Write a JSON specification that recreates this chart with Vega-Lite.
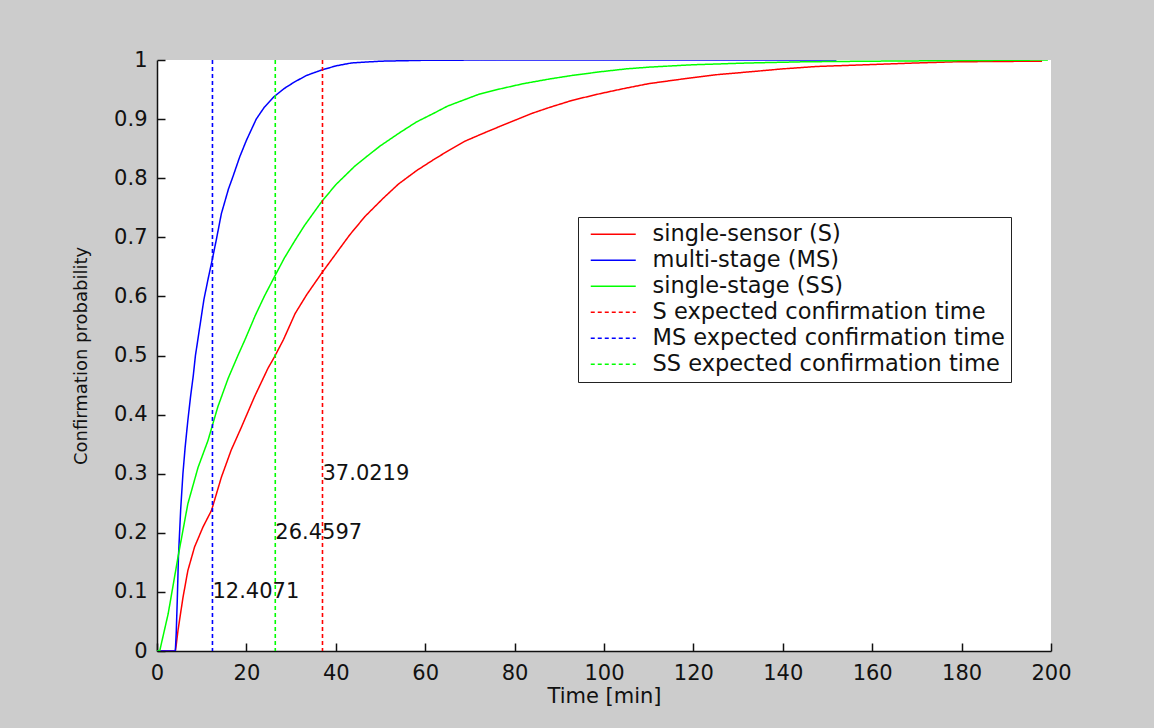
{
  "$schema": "https://vega.github.io/schema/vega-lite/v6.json",
  "width": 894,
  "height": 591,
  "autosize": {"type": "none"},
  "padding": {"left": 157, "top": 60, "right": 103, "bottom": 77},
  "background": "#cccccc",
  "config": {
    "font": "DejaVu Sans",
    "view": {"fill": "white", "stroke": null},
    "axis": {
      "domainColor": "#111111",
      "domainWidth": 1.5,
      "tickColor": "#111111",
      "tickWidth": 1.5,
      "tickSize": -8,
      "grid": false,
      "labelColor": "#111111",
      "labelFont": "DejaVu Sans",
      "labelFontSize": 21,
      "titleColor": "#111111",
      "titleFont": "DejaVu Sans",
      "titleFontWeight": "normal"
    }
  },
  "datasets": {
    "curves": [
      {"t": 0, "p": 0, "series": "single-sensor (S)"},
      {"t": 4.1, "p": 0, "series": "single-sensor (S)"},
      {"t": 4.3, "p": 0.01, "series": "single-sensor (S)"},
      {"t": 4.7, "p": 0.035, "series": "single-sensor (S)"},
      {"t": 5.8, "p": 0.09, "series": "single-sensor (S)"},
      {"t": 6.9, "p": 0.136, "series": "single-sensor (S)"},
      {"t": 8.4, "p": 0.176, "series": "single-sensor (S)"},
      {"t": 10.3, "p": 0.21, "series": "single-sensor (S)"},
      {"t": 12.2, "p": 0.238, "series": "single-sensor (S)"},
      {"t": 14.4, "p": 0.294, "series": "single-sensor (S)"},
      {"t": 16.6, "p": 0.34, "series": "single-sensor (S)"},
      {"t": 18.9, "p": 0.379, "series": "single-sensor (S)"},
      {"t": 21.8, "p": 0.43, "series": "single-sensor (S)"},
      {"t": 24.8, "p": 0.478, "series": "single-sensor (S)"},
      {"t": 26.3, "p": 0.498, "series": "single-sensor (S)"},
      {"t": 28.3, "p": 0.527, "series": "single-sensor (S)"},
      {"t": 30.9, "p": 0.571, "series": "single-sensor (S)"},
      {"t": 33.5, "p": 0.603, "series": "single-sensor (S)"},
      {"t": 36.8, "p": 0.639, "series": "single-sensor (S)"},
      {"t": 40, "p": 0.672, "series": "single-sensor (S)"},
      {"t": 43.1, "p": 0.704, "series": "single-sensor (S)"},
      {"t": 46.5, "p": 0.735, "series": "single-sensor (S)"},
      {"t": 50.6, "p": 0.766, "series": "single-sensor (S)"},
      {"t": 54, "p": 0.79, "series": "single-sensor (S)"},
      {"t": 58.1, "p": 0.813, "series": "single-sensor (S)"},
      {"t": 62, "p": 0.832, "series": "single-sensor (S)"},
      {"t": 65.5, "p": 0.848, "series": "single-sensor (S)"},
      {"t": 69, "p": 0.863, "series": "single-sensor (S)"},
      {"t": 73, "p": 0.876, "series": "single-sensor (S)"},
      {"t": 76.5, "p": 0.887, "series": "single-sensor (S)"},
      {"t": 80.4, "p": 0.899, "series": "single-sensor (S)"},
      {"t": 84, "p": 0.91, "series": "single-sensor (S)"},
      {"t": 87.9, "p": 0.92, "series": "single-sensor (S)"},
      {"t": 93, "p": 0.932, "series": "single-sensor (S)"},
      {"t": 99.1, "p": 0.943, "series": "single-sensor (S)"},
      {"t": 104, "p": 0.951, "series": "single-sensor (S)"},
      {"t": 110, "p": 0.96, "series": "single-sensor (S)"},
      {"t": 117.7, "p": 0.968, "series": "single-sensor (S)"},
      {"t": 125, "p": 0.975, "series": "single-sensor (S)"},
      {"t": 132.6, "p": 0.98, "series": "single-sensor (S)"},
      {"t": 140, "p": 0.985, "series": "single-sensor (S)"},
      {"t": 147.5, "p": 0.989, "series": "single-sensor (S)"},
      {"t": 155, "p": 0.991, "series": "single-sensor (S)"},
      {"t": 162.4, "p": 0.993, "series": "single-sensor (S)"},
      {"t": 170, "p": 0.995, "series": "single-sensor (S)"},
      {"t": 178.8, "p": 0.997, "series": "single-sensor (S)"},
      {"t": 198, "p": 0.998, "series": "single-sensor (S)"},

      {"t": 0, "p": 0, "series": "multi-stage (MS)"},
      {"t": 4.1, "p": 0, "series": "multi-stage (MS)"},
      {"t": 4.3, "p": 0.03, "series": "multi-stage (MS)"},
      {"t": 4.55, "p": 0.09, "series": "multi-stage (MS)"},
      {"t": 4.8, "p": 0.16, "series": "multi-stage (MS)"},
      {"t": 5.3, "p": 0.24, "series": "multi-stage (MS)"},
      {"t": 5.8, "p": 0.3, "series": "multi-stage (MS)"},
      {"t": 6.3, "p": 0.345, "series": "multi-stage (MS)"},
      {"t": 6.9, "p": 0.39, "series": "multi-stage (MS)"},
      {"t": 7.5, "p": 0.43, "series": "multi-stage (MS)"},
      {"t": 8.1, "p": 0.465, "series": "multi-stage (MS)"},
      {"t": 8.6, "p": 0.5, "series": "multi-stage (MS)"},
      {"t": 9.3, "p": 0.535, "series": "multi-stage (MS)"},
      {"t": 10.5, "p": 0.595, "series": "multi-stage (MS)"},
      {"t": 11.5, "p": 0.632, "series": "multi-stage (MS)"},
      {"t": 12.3, "p": 0.66, "series": "multi-stage (MS)"},
      {"t": 13.3, "p": 0.697, "series": "multi-stage (MS)"},
      {"t": 14.4, "p": 0.74, "series": "multi-stage (MS)"},
      {"t": 16, "p": 0.782, "series": "multi-stage (MS)"},
      {"t": 17, "p": 0.803, "series": "multi-stage (MS)"},
      {"t": 18.5, "p": 0.836, "series": "multi-stage (MS)"},
      {"t": 20, "p": 0.864, "series": "multi-stage (MS)"},
      {"t": 22.2, "p": 0.9, "series": "multi-stage (MS)"},
      {"t": 24, "p": 0.92, "series": "multi-stage (MS)"},
      {"t": 26.2, "p": 0.938, "series": "multi-stage (MS)"},
      {"t": 28.5, "p": 0.952, "series": "multi-stage (MS)"},
      {"t": 30.8, "p": 0.963, "series": "multi-stage (MS)"},
      {"t": 33.5, "p": 0.974, "series": "multi-stage (MS)"},
      {"t": 36.8, "p": 0.983, "series": "multi-stage (MS)"},
      {"t": 40, "p": 0.99, "series": "multi-stage (MS)"},
      {"t": 43.5, "p": 0.995, "series": "multi-stage (MS)"},
      {"t": 50, "p": 0.998, "series": "multi-stage (MS)"},
      {"t": 60, "p": 0.9995, "series": "multi-stage (MS)"},
      {"t": 75, "p": 1, "series": "multi-stage (MS)"},
      {"t": 152, "p": 1, "series": "multi-stage (MS)"},

      {"t": 0, "p": 0, "series": "single-stage (SS)"},
      {"t": 0.6, "p": 0, "series": "single-stage (SS)"},
      {"t": 2.5, "p": 0.063, "series": "single-stage (SS)"},
      {"t": 4.7, "p": 0.159, "series": "single-stage (SS)"},
      {"t": 6.9, "p": 0.249, "series": "single-stage (SS)"},
      {"t": 9.2, "p": 0.311, "series": "single-stage (SS)"},
      {"t": 11.4, "p": 0.356, "series": "single-stage (SS)"},
      {"t": 13.6, "p": 0.413, "series": "single-stage (SS)"},
      {"t": 15.9, "p": 0.461, "series": "single-stage (SS)"},
      {"t": 18.1, "p": 0.5, "series": "single-stage (SS)"},
      {"t": 19.7, "p": 0.527, "series": "single-stage (SS)"},
      {"t": 22, "p": 0.568, "series": "single-stage (SS)"},
      {"t": 24, "p": 0.6, "series": "single-stage (SS)"},
      {"t": 26.4, "p": 0.635, "series": "single-stage (SS)"},
      {"t": 28.5, "p": 0.665, "series": "single-stage (SS)"},
      {"t": 30.9, "p": 0.695, "series": "single-stage (SS)"},
      {"t": 33, "p": 0.72, "series": "single-stage (SS)"},
      {"t": 36.8, "p": 0.76, "series": "single-stage (SS)"},
      {"t": 40, "p": 0.789, "series": "single-stage (SS)"},
      {"t": 44.2, "p": 0.82, "series": "single-stage (SS)"},
      {"t": 46.8, "p": 0.836, "series": "single-stage (SS)"},
      {"t": 50, "p": 0.855, "series": "single-stage (SS)"},
      {"t": 54.3, "p": 0.877, "series": "single-stage (SS)"},
      {"t": 58, "p": 0.895, "series": "single-stage (SS)"},
      {"t": 61.7, "p": 0.909, "series": "single-stage (SS)"},
      {"t": 65, "p": 0.922, "series": "single-stage (SS)"},
      {"t": 69.2, "p": 0.934, "series": "single-stage (SS)"},
      {"t": 72, "p": 0.942, "series": "single-stage (SS)"},
      {"t": 76.7, "p": 0.951, "series": "single-stage (SS)"},
      {"t": 82, "p": 0.96, "series": "single-stage (SS)"},
      {"t": 87.9, "p": 0.968, "series": "single-stage (SS)"},
      {"t": 93, "p": 0.974, "series": "single-stage (SS)"},
      {"t": 99.1, "p": 0.98, "series": "single-stage (SS)"},
      {"t": 105, "p": 0.985, "series": "single-stage (SS)"},
      {"t": 110.2, "p": 0.988, "series": "single-stage (SS)"},
      {"t": 120, "p": 0.992, "series": "single-stage (SS)"},
      {"t": 132.6, "p": 0.995, "series": "single-stage (SS)"},
      {"t": 145, "p": 0.997, "series": "single-stage (SS)"},
      {"t": 160, "p": 0.998, "series": "single-stage (SS)"},
      {"t": 180, "p": 0.999, "series": "single-stage (SS)"},
      {"t": 199.3, "p": 1, "series": "single-stage (SS)"}
    ],
    "rules": [
      {"t": 37.0219, "series": "S expected confirmation time"},
      {"t": 12.4071, "series": "MS expected confirmation time"},
      {"t": 26.4597, "series": "SS expected confirmation time"}
    ],
    "labels": [
      {"t": 12.4071, "p": 0.1, "label": "12.4071"},
      {"t": 26.4597, "p": 0.2, "label": "26.4597"},
      {"t": 37.0219, "p": 0.3, "label": "37.0219"}
    ]
  },
  "layer": [
    {
      "data": {"name": "curves"},
      "mark": {"type": "line", "strokeWidth": 1.5, "clip": true},
      "encoding": {
        "x": {
          "field": "t", "type": "quantitative",
          "scale": {"domain": [0, 200], "nice": false, "zero": false},
          "axis": {"values": [0, 20, 40, 60, 80, 100, 120, 140, 160, 180, 200], "title": "Time [min]", "titleFontSize": 21, "titlePadding": 2, "labelPadding": 19, "labelFlush": false}
        },
        "y": {
          "field": "p", "type": "quantitative",
          "scale": {"domain": [0, 1], "nice": false},
          "axis": {"values": [0, 0.1, 0.2, 0.3, 0.4, 0.5, 0.6, 0.7, 0.8, 0.9, 1], "format": "~g", "title": "Confirmation probability", "titleFontSize": 18, "titlePadding": 23, "labelPadding": 18, "labelFlush": false}
        },
        "order": {"field": "t", "type": "quantitative"},
        "color": {
          "field": "series", "type": "nominal",
          "scale": {
            "domain": ["single-sensor (S)", "multi-stage (MS)", "single-stage (SS)", "S expected confirmation time", "MS expected confirmation time", "SS expected confirmation time"],
            "range": ["#ff0000", "#0000ff", "#00ff00", "#ff0000", "#0000ff", "#00ff00"]
          },
          "legend": {
            "title": null, "orient": "none", "legendX": 421, "legendY": 157,
            "symbolType": "M-3,0H3", "symbolSize": 225, "symbolStrokeWidth": 1.5, "symbolOffset": 18,
            "labelFont": "DejaVu Sans", "labelFontSize": 22.5, "labelColor": "#111111", "labelOffset": 28,
            "rowPadding": 3, "padding": 6, "fillColor": "white", "strokeColor": "#222222", "labelLimit": 600
          }
        },
        "strokeDash": {
          "field": "series", "type": "nominal",
          "scale": {
            "domain": ["single-sensor (S)", "multi-stage (MS)", "single-stage (SS)", "S expected confirmation time", "MS expected confirmation time", "SS expected confirmation time"],
            "range": [[1, 0], [1, 0], [1, 0], [4, 3], [4, 3], [4, 3]]
          },
          "legend": {
            "title": null, "orient": "none", "legendX": 421, "legendY": 157,
            "symbolType": "M-3,0H3", "symbolSize": 225, "symbolStrokeWidth": 1.5, "symbolOffset": 18,
            "labelFont": "DejaVu Sans", "labelFontSize": 22.5, "labelColor": "#111111", "labelOffset": 28,
            "rowPadding": 3, "padding": 6, "fillColor": "white", "strokeColor": "#222222", "labelLimit": 600
          }
        }
      }
    },
    {
      "data": {"name": "rules"},
      "mark": {"type": "rule", "strokeWidth": 1.6},
      "encoding": {
        "x": {"field": "t", "type": "quantitative"},
        "color": {"field": "series", "type": "nominal"},
        "strokeDash": {"field": "series", "type": "nominal"}
      }
    },
    {
      "data": {"name": "labels"},
      "mark": {"type": "text", "align": "left", "baseline": "middle", "font": "DejaVu Sans", "fontSize": 21, "color": "#111111"},
      "encoding": {
        "x": {"field": "t", "type": "quantitative"},
        "y": {"field": "p", "type": "quantitative"},
        "text": {"field": "label"}
      }
    }
  ]
}
